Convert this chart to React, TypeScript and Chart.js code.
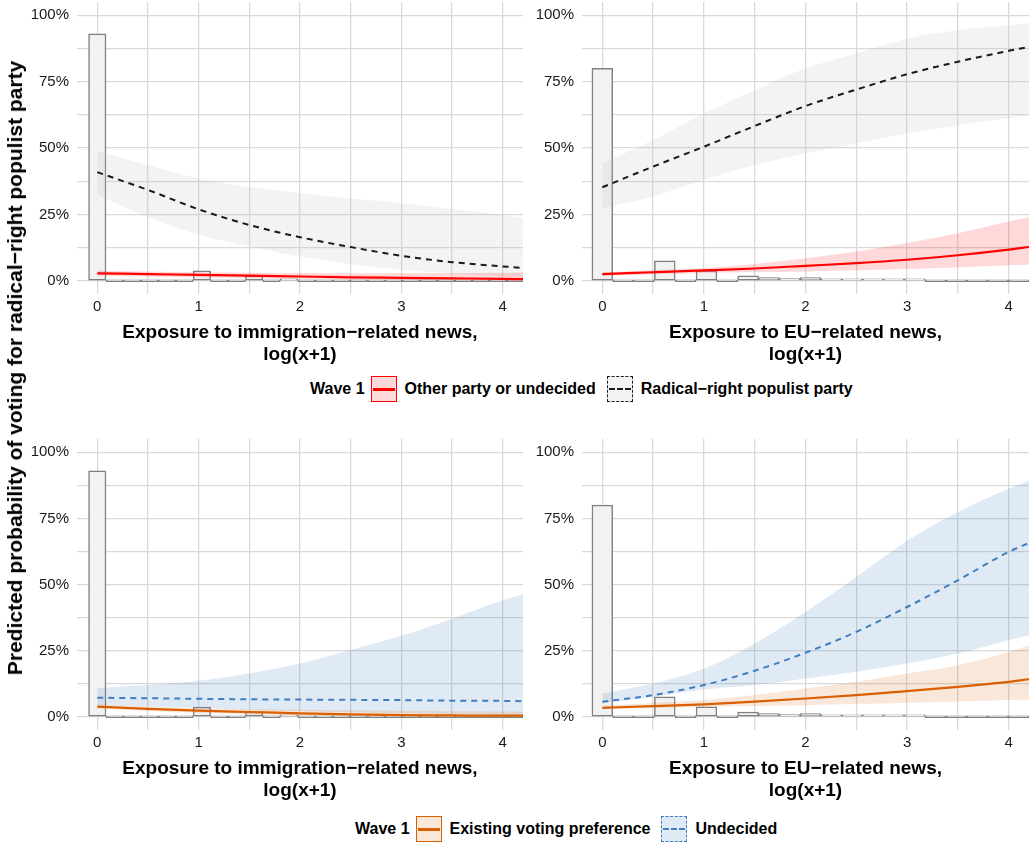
import React, { useEffect, useRef } from "react";
import { Chart, registerables } from "chart.js";

Chart.register(...registerables);

const FONT = '"Liberation Sans", Arial, Helvetica, sans-serif';
Chart.defaults.font.family = FONT;

// ---------- data ----------
const X_POINTS = [0, 0.5, 1, 1.5, 2, 2.5, 3, 3.5, 4, 4.2];
const X_GRID = [0, 0.5, 1, 1.5, 2, 2.5, 3, 3.5, 4];
const Y_GRID = [0, 12.5, 25, 37.5, 50, 62.5, 75, 87.5, 100];

// histogram of exposure (percent of respondents per bin)
const IMM_BIN_WIDTH = 0.172;
const IMM_HIST = [93, 0, 0, 0, 0, 0, 3.7, 0, 0, 1.8, 0, 0.5, 0, 0, 0, 0, 0, 0, 0, 0, 0, 0, 0, 0, 0, 0];
const EU_BIN_WIDTH = 0.205;
const EU_HIST = [80, 0, 0, 7.5, 0, 3.8, 0, 1.8, 1.2, 0.8, 1.2, 0.6, 0.3, 0.3, 0.2, 0.2, 0, 0, 0, 0, 0, 0];

// top row: immigration
const IMM_RADICAL = [40.9, 34.2, 26.9, 21.0, 16.4, 12.7, 9.4, 7.0, 5.4, 4.8];
const IMM_RADICAL_HI = [49, 43.5, 38.5, 35.3, 33, 31, 29.2, 27, 24.8, 23.6];
const IMM_RADICAL_LO = [32.3, 24, 17.3, 12.9, 9.1, 6.3, 4.1, 2.7, 1.6, 1.0];
const IMM_OTHER = [2.8, 2.5, 2.2, 1.9, 1.6, 1.3, 1.1, 0.9, 0.7, 0.6];
const IMM_OTHER_HI = [3.8, 3.5, 3.2, 3.0, 2.9, 2.8, 2.8, 2.9, 3.0, 3.1];
const IMM_OTHER_LO = [1.9, 1.6, 1.3, 1.0, 0.7, 0.5, 0.3, 0.2, 0.1, 0.1];

// top row: EU
const EU_RADICAL = [35.2, 43, 50.5, 58.3, 65.8, 72, 77.8, 82.5, 86.6, 88.1];
const EU_RADICAL_HI = [44.2, 53, 63, 71.8, 80, 85.6, 91.2, 94.4, 96.2, 96.9];
const EU_RADICAL_LO = [27.3, 31.7, 38, 43.6, 48, 51.8, 55.5, 58.6, 61.2, 62.2];
const EU_OTHER = [2.5, 3.2, 3.9, 4.6, 5.6, 6.6, 7.9, 9.6, 11.7, 12.7];
const EU_OTHER_HI = [3.1, 3.9, 4.8, 6.3, 8.5, 11, 14.2, 17.9, 22.3, 23.9];
const EU_OTHER_LO = [1.9, 2.4, 2.9, 3.2, 3.5, 3.9, 4.4, 5.0, 5.8, 6.0];

// bottom row: immigration
const IMM_UNDECIDED = [7.2, 7.0, 6.8, 6.6, 6.5, 6.4, 6.3, 6.1, 6.0, 5.9];
const IMM_UNDECIDED_HI = [10.9, 12, 13.6, 16.4, 20.1, 25.2, 30.6, 37.1, 44, 46.3];
const IMM_UNDECIDED_LO = [4.5, 3.9, 3.3, 2.7, 2.2, 1.7, 1.3, 1.0, 0.8, 0.7];
const IMM_EXISTING = [3.8, 3.0, 2.3, 1.8, 1.3, 0.9, 0.6, 0.5, 0.4, 0.4];
const IMM_EXISTING_HI = [4.7, 3.9, 3.2, 2.9, 2.7, 2.5, 2.3, 2.1, 2.0, 1.9];
const IMM_EXISTING_LO = [3.1, 2.2, 1.5, 0.9, 0.5, 0.3, 0.2, 0.1, 0.05, 0.05];

// bottom row: EU
const EU_UNDECIDED = [5.7, 8.2, 12, 17.4, 24.2, 32.1, 41.5, 51.6, 62.3, 65.7];
const EU_UNDECIDED_HI = [8.8, 12.6, 18.2, 27.7, 39.6, 52.8, 66.5, 77.4, 86.2, 89.1];
const EU_UNDECIDED_LO = [5.0, 7.5, 10.3, 12, 14.5, 17, 20.1, 23.9, 28.9, 30.8];
const EU_EXISTING = [3.4, 4.0, 4.7, 5.7, 6.9, 8.2, 9.7, 11.3, 13.2, 14.2];
const EU_EXISTING_HI = [4.3, 5.2, 6.3, 8.2, 10.7, 13.2, 16.4, 19.5, 24.5, 27];
const EU_EXISTING_LO = [2.8, 3.3, 3.8, 4.1, 4.4, 4.8, 5.3, 5.8, 6.3, 6.5];

const IMM_TITLE = ["Exposure to immigration\u2212related news,", "log(x+1)"];
const EU_TITLE = ["Exposure to EU\u2212related news,", "log(x+1)"];

// ---------- styles ----------
const RED = "#ff0000";
const RED_FILL = "rgba(255,0,0,0.15)";
const BLACK = "#1a1a1a";
const GRAY_FILL = "rgba(190,190,190,0.18)";
const ORANGE = "#d95f02";
const ORANGE_FILL = "rgba(217,95,2,0.15)";
const BLUE = "#3f7fbf";
const BLUE_FILL = "rgba(63,127,191,0.16)";

type Series = { mid: number[]; lo: number[]; hi: number[]; color: string; fill: string; dashed: boolean };
type PanelSpec = {
  id: string;
  left: number;
  top: number;
  w: number;
  h: number;
  title: string[];
  binWidth: number;
  hist: number[];
  series: Series[];
};

const PANELS: PanelSpec[] = [
  {
    id: "tl", left: 17, top: -18, w: 516, h: 384, title: IMM_TITLE, binWidth: IMM_BIN_WIDTH, hist: IMM_HIST,
    series: [
      { mid: IMM_OTHER, lo: IMM_OTHER_LO, hi: IMM_OTHER_HI, color: RED, fill: RED_FILL, dashed: false },
      { mid: IMM_RADICAL, lo: IMM_RADICAL_LO, hi: IMM_RADICAL_HI, color: BLACK, fill: GRAY_FILL, dashed: true },
    ],
  },
  {
    id: "tr", left: 522, top: -18, w: 517, h: 384, title: EU_TITLE, binWidth: EU_BIN_WIDTH, hist: EU_HIST,
    series: [
      { mid: EU_OTHER, lo: EU_OTHER_LO, hi: EU_OTHER_HI, color: RED, fill: RED_FILL, dashed: false },
      { mid: EU_RADICAL, lo: EU_RADICAL_LO, hi: EU_RADICAL_HI, color: BLACK, fill: GRAY_FILL, dashed: true },
    ],
  },
  {
    id: "bl", left: 17, top: 419, w: 516, h: 383, title: IMM_TITLE, binWidth: IMM_BIN_WIDTH, hist: IMM_HIST,
    series: [
      { mid: IMM_EXISTING, lo: IMM_EXISTING_LO, hi: IMM_EXISTING_HI, color: ORANGE, fill: ORANGE_FILL, dashed: false },
      { mid: IMM_UNDECIDED, lo: IMM_UNDECIDED_LO, hi: IMM_UNDECIDED_HI, color: BLUE, fill: BLUE_FILL, dashed: true },
    ],
  },
  {
    id: "br", left: 522, top: 419, w: 517, h: 383, title: EU_TITLE, binWidth: EU_BIN_WIDTH, hist: EU_HIST,
    series: [
      { mid: EU_EXISTING, lo: EU_EXISTING_LO, hi: EU_EXISTING_HI, color: ORANGE, fill: ORANGE_FILL, dashed: false },
      { mid: EU_UNDECIDED, lo: EU_UNDECIDED_LO, hi: EU_UNDECIDED_HI, color: BLUE, fill: BLUE_FILL, dashed: true },
    ],
  },
];

const toPts = (ys: number[]) => X_POINTS.map((x, i) => ({ x, y: ys[i] }));

function buildConfig(p: PanelSpec): any {
  const datasets: any[] = [];
  // lines on top
  p.series.forEach((s) => {
    datasets.push({
      type: "line",
      data: toPts(s.mid),
      borderColor: s.color,
      borderWidth: s.dashed ? 2 : 2.2,
      borderDash: s.dashed ? [6, 5] : [],
      pointRadius: 0,
      fill: false,
      cubicInterpolationMode: "monotone",
    });
  });
  // ribbons
  p.series.forEach((s) => {
    datasets.push({
      type: "line",
      data: toPts(s.hi),
      borderColor: "transparent",
      borderWidth: 0,
      pointRadius: 0,
      backgroundColor: s.fill,
      fill: "+1",
      cubicInterpolationMode: "monotone",
    });
    datasets.push({
      type: "line",
      data: toPts(s.lo),
      borderColor: "transparent",
      borderWidth: 0,
      pointRadius: 0,
      fill: false,
      cubicInterpolationMode: "monotone",
    });
  });
  // histogram at the bottom
  datasets.push({
    type: "bar",
    data: p.hist.map((v, k) => ({ x: k * p.binWidth, y: v })),
    backgroundColor: "#f2f2f2",
    borderColor: "#808080",
    borderWidth: 1.5,
    borderSkipped: false,
    minBarLength: 2,
    barPercentage: 1,
    categoryPercentage: 1,
    clip: 0,
  });

  return {
    type: "line",
    data: { datasets },
    options: {
      animation: false,
      responsive: false,
      maintainAspectRatio: false,
      devicePixelRatio: 1,
      layout: { padding: { left: 0, right: 10, top: 20, bottom: 0 } },
      plugins: { legend: { display: false }, tooltip: { enabled: false } },
      scales: {
        x: {
          type: "linear",
          min: -0.2,
          max: 4.2,
          offset: false,
          grid: { offset: false, color: "#d9d9d9", lineWidth: 1.3, drawTicks: false },
          border: { display: false },
          afterBuildTicks: (s: any) => {
            s.ticks = X_GRID.map((v) => ({ value: v }));
          },
          afterFit: (s: any) => {
            s.height = 72;
          },
          ticks: {
            autoSkip: false,
            maxRotation: 0,
            padding: 4,
            color: "#1a1a1a",
            font: { size: 15 },
            callback: (v: number) => (Number.isInteger(v) ? String(v) : ""),
          },
          title: {
            display: true,
            text: p.title,
            color: "#000",
            padding: 0,
            font: { size: 19, weight: "bold", lineHeight: 22 / 19 },
          },
        },
        y: {
          type: "linear",
          min: -5,
          max: 105,
          grid: { color: "#d9d9d9", lineWidth: 1.3, drawTicks: false },
          border: { display: false },
          afterBuildTicks: (s: any) => {
            s.ticks = Y_GRID.map((v) => ({ value: v }));
          },
          afterFit: (s: any) => {
            s.width = 60;
          },
          ticks: {
            autoSkip: false,
            padding: 8,
            color: "#1a1a1a",
            font: { size: 15 },
            callback: (v: number) => (v % 25 === 0 ? `${v}%` : ""),
          },
        },
      },
    },
  };
}

function PanelCanvas({ spec }: { spec: PanelSpec }) {
  const ref = useRef<HTMLCanvasElement>(null);
  useEffect(() => {
    const chart = new Chart(ref.current as HTMLCanvasElement, buildConfig(spec));
    return () => chart.destroy();
  }, [spec]);
  return (
    <canvas
      ref={ref}
      width={spec.w}
      height={spec.h}
      style={{ position: "absolute", left: spec.left, top: spec.top, width: spec.w, height: spec.h }}
    />
  );
}

function Key({ color, fill, dashed }: { color: string; fill: string; dashed: boolean }) {
  return (
    <div
      style={{
        width: 26,
        height: 26,
        boxSizing: "border-box",
        border: `1.5px ${dashed ? "dashed" : "solid"} ${color}`,
        background: fill,
        position: "relative",
        flex: "none",
      }}
    >
      <div
        style={{
          position: "absolute",
          left: 1,
          right: 1,
          top: dashed ? 11 : 10.5,
          borderTop: `${dashed ? 2 : 3}px ${dashed ? "dashed" : "solid"} ${color}`,
        }}
      />
    </div>
  );
}

type LegendItem = { label: string; color: string; fill: string; dashed: boolean };

function Legend({ left, centerY, items }: { left: number; centerY: number; items: LegendItem[] }) {
  return (
    <div
      style={{
        position: "absolute",
        left,
        top: centerY - 13,
        height: 26,
        display: "flex",
        alignItems: "center",
        whiteSpace: "nowrap",
        fontFamily: FONT,
        fontWeight: "bold",
        fontSize: 16,
        color: "#000",
      }}
    >
      <span style={{ marginRight: 6 }}>Wave 1</span>
      {items.map((it, i) => (
        <React.Fragment key={it.label}>
          <Key color={it.color} fill={it.fill} dashed={it.dashed} />
          <span style={{ marginLeft: 8, marginRight: i === 0 ? 11 : 0 }}>{it.label}</span>
        </React.Fragment>
      ))}
    </div>
  );
}

const TOP_LEGEND: LegendItem[] = [
  { label: "Other party or undecided", color: RED, fill: "rgba(255,0,0,0.15)", dashed: false },
  { label: "Radical\u2212right populist party", color: BLACK, fill: "#f3f3f3", dashed: true },
];
const BOTTOM_LEGEND: LegendItem[] = [
  { label: "Existing voting preference", color: ORANGE, fill: ORANGE_FILL, dashed: false },
  { label: "Undecided", color: BLUE, fill: BLUE_FILL, dashed: true },
];

export default function App() {
  return (
    <div
      style={{
        position: "fixed",
        left: 0,
        top: 0,
        width: 1030,
        height: 845,
        overflow: "hidden",
        background: "#fff",
        fontFamily: FONT,
      }}
    >
      {PANELS.map((p) => (
        <PanelCanvas key={p.id} spec={p} />
      ))}
      <div
        style={{
          position: "absolute",
          left: 15,
          top: 368,
          transform: "translate(-50%, -50%) rotate(-90deg)",
          whiteSpace: "nowrap",
          fontWeight: "bold",
          fontSize: 21,
          color: "#000",
        }}
      >
        Predicted probability of voting for radical{"\u2212"}right populist party
      </div>
      <Legend left={310} centerY={389} items={TOP_LEGEND} />
      <Legend left={355} centerY={829} items={BOTTOM_LEGEND} />
    </div>
  );
}
